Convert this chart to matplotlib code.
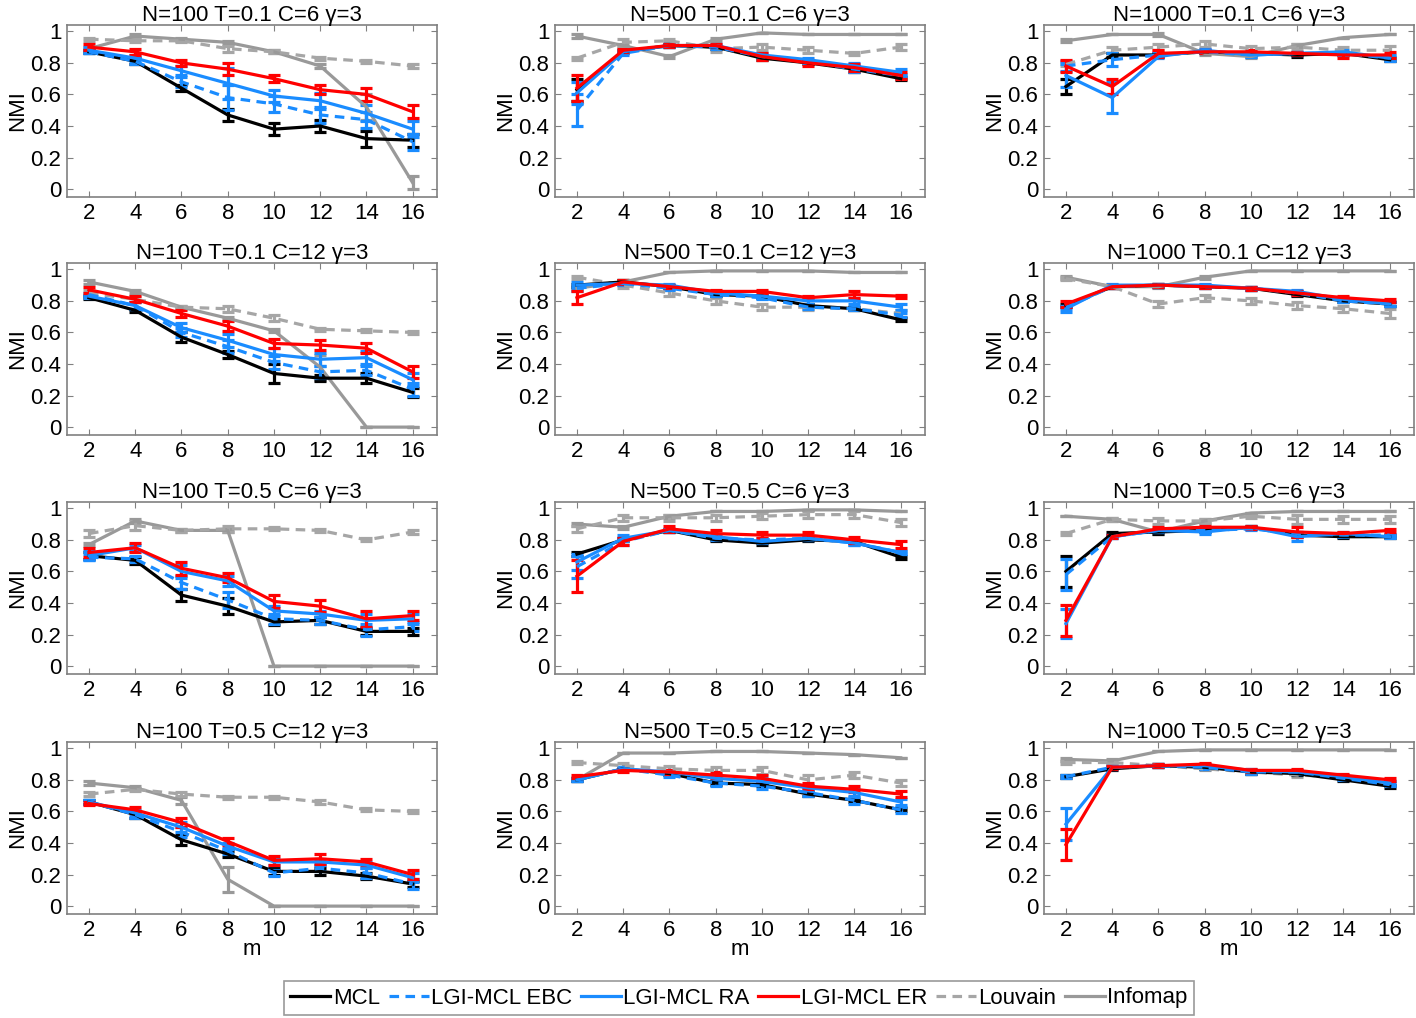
import numpy as np
from matplotlib import pyplot as plt

plt.rcParams['font.family'] = ['Liberation Sans', 'DejaVu Sans']

m = [2, 4, 6, 8, 10, 12, 14, 16]

titles = ["N=100 T=0.1 C=6 γ=3", "N=500 T=0.1 C=6 γ=3", "N=1000 T=0.1 C=6 γ=3",
          "N=100 T=0.1 C=12 γ=3", "N=500 T=0.1 C=12 γ=3", "N=1000 T=0.1 C=12 γ=3",
          "N=100 T=0.5 C=6 γ=3", "N=500 T=0.5 C=6 γ=3", "N=1000 T=0.5 C=6 γ=3",
          "N=100 T=0.5 C=12 γ=3", "N=500 T=0.5 C=12 γ=3", "N=1000 T=0.5 C=12 γ=3"]

# NMI values, one row per panel (reading order)
mcl = [[0.87, 0.81, 0.64, 0.47, 0.38, 0.40, 0.32, 0.31],
       [0.63, 0.87, 0.91, 0.90, 0.83, 0.80, 0.76, 0.70],
       [0.65, 0.85, 0.85, 0.87, 0.86, 0.85, 0.86, 0.82],
       [0.82, 0.74, 0.57, 0.46, 0.34, 0.31, 0.31, 0.22],
       [0.90, 0.92, 0.89, 0.84, 0.83, 0.77, 0.75, 0.68],
       [0.77, 0.89, 0.90, 0.89, 0.88, 0.84, 0.80, 0.78],
       [0.70, 0.67, 0.45, 0.38, 0.28, 0.29, 0.22, 0.22],
       [0.71, 0.80, 0.86, 0.80, 0.78, 0.80, 0.79, 0.69],
       [0.60, 0.84, 0.85, 0.86, 0.88, 0.83, 0.82, 0.82],
       [0.66, 0.58, 0.42, 0.33, 0.22, 0.22, 0.19, 0.14],
       [0.80, 0.87, 0.84, 0.78, 0.77, 0.71, 0.67, 0.61],
       [0.82, 0.87, 0.89, 0.88, 0.85, 0.84, 0.80, 0.76]]
mcl_err = [[0.01, 0.02, 0.02, 0.04, 0.04, 0.04, 0.05, 0.04],
           [0.07, 0.01, 0.01, 0.01, 0.01, 0.01, 0.02, 0.01],
           [0.05, 0.01, 0.01, 0.01, 0.01, 0.01, 0.01, 0.01],
           [0.01, 0.01, 0.03, 0.02, 0.06, 0.02, 0.03, 0.03],
           [0.01, 0.01, 0.01, 0.01, 0.01, 0.01, 0.01, 0.01],
           [0.01, 0.01, 0.01, 0.01, 0.01, 0.01, 0.01, 0.01],
           [0.02, 0.02, 0.04, 0.05, 0.02, 0.02, 0.02, 0.02],
           [0.01, 0.01, 0.01, 0.01, 0.01, 0.01, 0.01, 0.01],
           [0.10, 0.01, 0.01, 0.01, 0.01, 0.01, 0.01, 0.01],
           [0.01, 0.02, 0.03, 0.02, 0.02, 0.02, 0.02, 0.02],
           [0.01, 0.01, 0.01, 0.01, 0.01, 0.01, 0.01, 0.01],
           [0.01, 0.01, 0.01, 0.01, 0.01, 0.01, 0.01, 0.01]]

ebc = [[0.87, 0.81, 0.68, 0.58, 0.54, 0.47, 0.44, 0.30],
       [0.50, 0.86, 0.91, 0.90, 0.84, 0.81, 0.76, 0.72],
       [0.78, 0.82, 0.85, 0.87, 0.85, 0.86, 0.86, 0.83],
       [0.84, 0.77, 0.60, 0.51, 0.41, 0.35, 0.36, 0.24],
       [0.88, 0.91, 0.88, 0.84, 0.82, 0.76, 0.75, 0.71],
       [0.76, 0.89, 0.90, 0.89, 0.88, 0.85, 0.80, 0.78],
       [0.69, 0.68, 0.53, 0.42, 0.30, 0.29, 0.23, 0.25],
       [0.63, 0.79, 0.86, 0.81, 0.80, 0.81, 0.78, 0.72],
       [0.58, 0.82, 0.86, 0.86, 0.87, 0.84, 0.83, 0.83],
       [0.66, 0.58, 0.47, 0.35, 0.21, 0.24, 0.21, 0.14],
       [0.80, 0.87, 0.83, 0.78, 0.76, 0.72, 0.67, 0.61],
       [0.82, 0.88, 0.89, 0.88, 0.85, 0.85, 0.81, 0.77]]
ebc_err = [[0.01, 0.02, 0.03, 0.08, 0.05, 0.05, 0.05, 0.05],
           [0.10, 0.01, 0.01, 0.01, 0.01, 0.01, 0.02, 0.01],
           [0.03, 0.04, 0.01, 0.01, 0.01, 0.01, 0.01, 0.01],
           [0.01, 0.02, 0.03, 0.04, 0.04, 0.04, 0.03, 0.04],
           [0.02, 0.01, 0.01, 0.01, 0.01, 0.01, 0.01, 0.01],
           [0.01, 0.01, 0.01, 0.01, 0.01, 0.01, 0.01, 0.01],
           [0.02, 0.02, 0.04, 0.05, 0.03, 0.02, 0.04, 0.03],
           [0.07, 0.02, 0.01, 0.01, 0.01, 0.01, 0.01, 0.01],
           [0.10, 0.01, 0.01, 0.01, 0.01, 0.01, 0.01, 0.01],
           [0.01, 0.02, 0.03, 0.02, 0.02, 0.02, 0.03, 0.03],
           [0.01, 0.01, 0.01, 0.02, 0.02, 0.02, 0.02, 0.02],
           [0.01, 0.01, 0.01, 0.01, 0.01, 0.01, 0.01, 0.01]]

ra = [[0.88, 0.83, 0.75, 0.67, 0.59, 0.56, 0.48, 0.38],
      [0.61, 0.87, 0.91, 0.91, 0.85, 0.82, 0.78, 0.74],
      [0.72, 0.58, 0.84, 0.88, 0.85, 0.86, 0.87, 0.83],
      [0.83, 0.77, 0.63, 0.55, 0.46, 0.43, 0.44, 0.30],
      [0.90, 0.91, 0.90, 0.85, 0.83, 0.80, 0.80, 0.76],
      [0.75, 0.90, 0.90, 0.90, 0.88, 0.86, 0.81, 0.78],
      [0.70, 0.75, 0.60, 0.54, 0.35, 0.33, 0.29, 0.30],
      [0.66, 0.81, 0.86, 0.82, 0.79, 0.81, 0.78, 0.72],
      [0.27, 0.82, 0.86, 0.85, 0.88, 0.82, 0.84, 0.82],
      [0.66, 0.59, 0.50, 0.38, 0.28, 0.28, 0.26, 0.18],
      [0.80, 0.87, 0.85, 0.81, 0.79, 0.75, 0.72, 0.66],
      [0.52, 0.88, 0.89, 0.89, 0.86, 0.85, 0.82, 0.78]]
ra_err = [[0.02, 0.02, 0.03, 0.10, 0.04, 0.05, 0.05, 0.05],
          [0.07, 0.01, 0.01, 0.01, 0.01, 0.01, 0.02, 0.02],
          [0.07, 0.10, 0.01, 0.01, 0.01, 0.01, 0.01, 0.02],
          [0.01, 0.02, 0.03, 0.04, 0.04, 0.04, 0.04, 0.04],
          [0.02, 0.01, 0.01, 0.01, 0.01, 0.02, 0.02, 0.02],
          [0.02, 0.01, 0.01, 0.01, 0.01, 0.01, 0.01, 0.01],
          [0.03, 0.02, 0.04, 0.03, 0.03, 0.02, 0.04, 0.03],
          [0.05, 0.02, 0.01, 0.01, 0.01, 0.01, 0.01, 0.01],
          [0.09, 0.01, 0.01, 0.01, 0.01, 0.03, 0.01, 0.01],
          [0.01, 0.02, 0.03, 0.02, 0.02, 0.02, 0.02, 0.03],
          [0.01, 0.01, 0.01, 0.02, 0.02, 0.02, 0.02, 0.02],
          [0.10, 0.01, 0.01, 0.01, 0.01, 0.01, 0.01, 0.01]]

er = [[0.90, 0.87, 0.80, 0.76, 0.70, 0.63, 0.60, 0.49],
      [0.64, 0.88, 0.91, 0.91, 0.84, 0.80, 0.77, 0.72],
      [0.78, 0.65, 0.86, 0.87, 0.87, 0.86, 0.85, 0.85],
      [0.87, 0.81, 0.72, 0.64, 0.53, 0.52, 0.50, 0.35],
      [0.82, 0.92, 0.89, 0.86, 0.86, 0.82, 0.84, 0.83],
      [0.78, 0.89, 0.90, 0.89, 0.88, 0.85, 0.82, 0.80],
      [0.72, 0.75, 0.62, 0.56, 0.41, 0.38, 0.30, 0.32],
      [0.57, 0.79, 0.87, 0.84, 0.83, 0.83, 0.80, 0.77],
      [0.29, 0.82, 0.87, 0.88, 0.88, 0.85, 0.84, 0.86],
      [0.65, 0.61, 0.53, 0.41, 0.29, 0.30, 0.28, 0.20],
      [0.82, 0.86, 0.85, 0.83, 0.81, 0.76, 0.74, 0.71],
      [0.39, 0.88, 0.89, 0.90, 0.86, 0.86, 0.83, 0.80]]
er_err = [[0.02, 0.02, 0.02, 0.04, 0.02, 0.03, 0.04, 0.04],
          [0.08, 0.01, 0.01, 0.01, 0.02, 0.02, 0.02, 0.02],
          [0.04, 0.05, 0.02, 0.01, 0.01, 0.01, 0.02, 0.02],
          [0.02, 0.02, 0.02, 0.03, 0.03, 0.03, 0.03, 0.04],
          [0.04, 0.01, 0.01, 0.01, 0.01, 0.01, 0.02, 0.01],
          [0.02, 0.01, 0.01, 0.01, 0.01, 0.01, 0.01, 0.01],
          [0.03, 0.03, 0.04, 0.03, 0.04, 0.04, 0.05, 0.03],
          [0.10, 0.02, 0.02, 0.02, 0.02, 0.02, 0.02, 0.02],
          [0.10, 0.01, 0.01, 0.01, 0.01, 0.03, 0.01, 0.01],
          [0.01, 0.02, 0.03, 0.02, 0.03, 0.03, 0.02, 0.03],
          [0.01, 0.01, 0.01, 0.02, 0.02, 0.02, 0.02, 0.02],
          [0.10, 0.01, 0.01, 0.01, 0.01, 0.01, 0.01, 0.01]]

louvain = [[0.95, 0.94, 0.94, 0.89, 0.87, 0.83, 0.81, 0.78],
           [0.83, 0.93, 0.94, 0.89, 0.90, 0.88, 0.86, 0.90],
           [0.79, 0.88, 0.90, 0.92, 0.89, 0.90, 0.88, 0.88],
           [0.85, 0.81, 0.76, 0.75, 0.69, 0.62, 0.61, 0.60],
           [0.95, 0.90, 0.85, 0.80, 0.76, 0.76, 0.75, 0.72],
           [0.94, 0.89, 0.78, 0.82, 0.80, 0.77, 0.75, 0.72],
           [0.84, 0.89, 0.86, 0.87, 0.87, 0.86, 0.80, 0.85],
           [0.87, 0.94, 0.94, 0.94, 0.95, 0.96, 0.96, 0.91],
           [0.84, 0.93, 0.92, 0.92, 0.95, 0.93, 0.93, 0.93],
           [0.71, 0.74, 0.71, 0.69, 0.69, 0.66, 0.61, 0.60],
           [0.91, 0.89, 0.87, 0.86, 0.86, 0.80, 0.83, 0.78],
           [0.91, 0.91, 0.89, 0.87, 0.85, 0.83, 0.82, 0.78]]
louvain_err = [[0.01, 0.01, 0.01, 0.02, 0.01, 0.01, 0.01, 0.01],
               [0.01, 0.02, 0.01, 0.02, 0.02, 0.02, 0.01, 0.02],
               [0.01, 0.02, 0.02, 0.02, 0.02, 0.02, 0.02, 0.03],
               [0.02, 0.02, 0.01, 0.02, 0.02, 0.01, 0.01, 0.01],
               [0.01, 0.02, 0.02, 0.02, 0.02, 0.02, 0.01, 0.02],
               [0.01, 0.01, 0.02, 0.02, 0.02, 0.02, 0.02, 0.03],
               [0.02, 0.03, 0.01, 0.02, 0.01, 0.01, 0.01, 0.01],
               [0.02, 0.02, 0.02, 0.02, 0.02, 0.02, 0.02, 0.02],
               [0.01, 0.01, 0.02, 0.01, 0.01, 0.03, 0.02, 0.02],
               [0.01, 0.01, 0.01, 0.01, 0.01, 0.01, 0.01, 0.01],
               [0.01, 0.02, 0.02, 0.02, 0.02, 0.03, 0.02, 0.02],
               [0.01, 0.01, 0.01, 0.01, 0.01, 0.01, 0.01, 0.01]]

infomap = [[0.89, 0.97, 0.95, 0.93, 0.87, 0.78, 0.52, 0.04],
           [0.97, 0.91, 0.84, 0.95, 0.99, 0.98, 0.98, 0.98],
           [0.94, 0.98, 0.98, 0.86, 0.84, 0.91, 0.96, 0.98],
           [0.92, 0.86, 0.76, 0.69, 0.61, 0.38, 0.00, 0.00],
           [0.88, 0.92, 0.98, 0.99, 0.99, 0.99, 0.98, 0.98],
           [0.95, 0.89, 0.89, 0.95, 0.99, 0.99, 0.99, 0.99],
           [0.77, 0.92, 0.86, 0.86, 0.00, 0.00, 0.00, 0.00],
           [0.90, 0.88, 0.95, 0.98, 0.98, 0.99, 0.99, 0.98],
           [0.95, 0.93, 0.85, 0.92, 0.97, 0.98, 0.98, 0.98],
           [0.78, 0.75, 0.67, 0.17, 0.00, 0.00, 0.00, 0.00],
           [0.80, 0.97, 0.97, 0.98, 0.98, 0.97, 0.96, 0.94],
           [0.93, 0.92, 0.98, 0.99, 0.99, 0.99, 0.99, 0.99]]
infomap_err = [[0.01, 0.01, 0.01, 0.01, 0.01, 0.01, 0.08, 0.04],
               [0.01, 0.01, 0.01, 0.01, 0.00, 0.00, 0.00, 0.00],
               [0.01, 0.00, 0.01, 0.01, 0.01, 0.01, 0.00, 0.00],
               [0.01, 0.01, 0.01, 0.01, 0.01, 0.08, 0.00, 0.00],
               [0.01, 0.01, 0.00, 0.00, 0.00, 0.00, 0.00, 0.00],
               [0.01, 0.01, 0.01, 0.01, 0.00, 0.00, 0.00, 0.00],
               [0.01, 0.01, 0.01, 0.01, 0.00, 0.00, 0.00, 0.00],
               [0.01, 0.01, 0.01, 0.00, 0.00, 0.00, 0.00, 0.00],
               [0.00, 0.01, 0.01, 0.01, 0.00, 0.00, 0.00, 0.00],
               [0.01, 0.01, 0.02, 0.08, 0.00, 0.00, 0.00, 0.00],
               [0.01, 0.00, 0.00, 0.00, 0.00, 0.00, 0.00, 0.00],
               [0.01, 0.01, 0.00, 0.00, 0.00, 0.00, 0.00, 0.00]]

names = ["MCL", "LGI-MCL EBC", "LGI-MCL RA", "LGI-MCL ER", "Louvain", "Infomap"]

# drawing order: grey baselines first, coloured methods on top
series = [
    (infomap, infomap_err, "#999999", "-", 5),
    (louvain, louvain_err, "#a6a6a6", "--", 4),
    (mcl, mcl_err, "black", "-", 0),
    (ebc, ebc_err, "#1a8cff", "--", 1),
    (ra, ra_err, "#1a8cff", "-", 2),
    (er, er_err, "#ff0000", "-", 3),
]

W, H = 1416, 1018
fig = plt.figure(figsize=(W / 100, H / 100), dpi=100)

lefts = [67, 555, 1044]
tops = [25, 263, 502, 742]
aw, ah = 370, 172
fs = 16

handles = [None] * 6
for i in range(12):
    r, c = divmod(i, 3)
    ax = fig.add_axes([lefts[c] / W, 1 - (tops[r] + ah) / H, aw / W, ah / H])
    for vals, errs, col, ls, k in series:
        eb = ax.errorbar(m, vals[i], yerr=errs[i], color=col, linestyle=ls,
                         linewidth=2.3, elinewidth=2.3, capsize=4.5, capthick=2.3)
        if ls == "--":
            eb[0].set_dashes((3, 2))
        handles[k] = eb[0]
    ax.set_xlim(1.05, 17.05)
    ax.set_ylim(-0.05, 1.04)
    ax.set_xticks(m)
    ax.set_yticks([0, 0.2, 0.4, 0.6, 0.8, 1])
    ax.set_yticklabels(["0", "0.2", "0.4", "0.6", "0.8", "1"])
    ax.tick_params(direction="in", top=True, right=True, length=4,
                   color="#808080", labelsize=fs, pad=4)
    for s in ax.spines.values():
        s.set_color("#808080")
        s.set_linewidth(1.2)
    ax.set_title(titles[i], fontsize=fs, pad=3)
    ax.set_ylabel("NMI", fontsize=fs, labelpad=2)
    if r == 3:
        ax.set_xlabel("m", fontsize=fs, labelpad=-1)

leg = fig.legend(handles, names, loc="center", bbox_to_anchor=(739 / W, 1 - 998 / H),
                 ncol=6, fontsize=fs, frameon=True, fancybox=False,
                 handlelength=1.8, handletextpad=0.1, columnspacing=0.4,
                 borderpad=0.3, borderaxespad=0, edgecolor="#808080")
leg.get_frame().set_linewidth(1.2)

plt.savefig("out.png", dpi=100)
